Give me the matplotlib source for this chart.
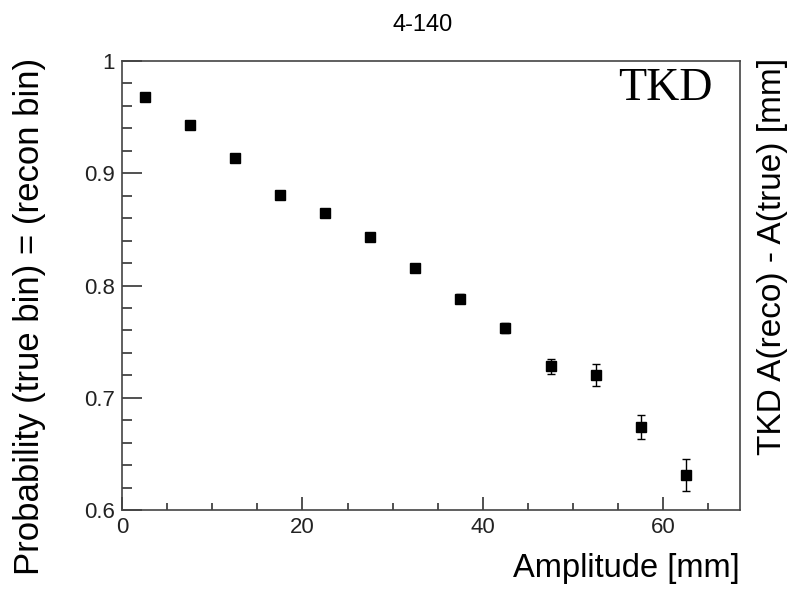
import numpy as np
import matplotlib
matplotlib.use("Agg")
import matplotlib.pyplot as plt
from matplotlib.ticker import MultipleLocator

# bin centres (5 mm wide amplitude bins) and probability of staying in the same bin
amplitude = [2.5, 7.5, 12.5, 17.5, 22.5, 27.5, 32.5, 37.5, 42.5, 47.5, 52.5, 57.5, 62.5]
prob = [0.968, 0.943, 0.914, 0.881, 0.865, 0.843, 0.816, 0.788, 0.762, 0.728, 0.720, 0.674, 0.631]
prob_err = [0.001, 0.0015, 0.002, 0.0025, 0.003, 0.003, 0.0035, 0.004, 0.0045, 0.0067, 0.0098, 0.0108, 0.0143]

plt.rcParams['font.family'] = ['Liberation Sans', 'DejaVu Sans']

W, H = 796, 590
fig = plt.figure(figsize=(W / 100, H / 100), dpi=100)
ax = fig.add_axes([122 / W, 1 - 510 / H, (740 - 122) / W, (510 - 61) / H])

ax.errorbar(amplitude, prob, yerr=prob_err, fmt='s', color='black',
            markersize=7.2, elinewidth=1, capsize=3, capthick=1)

ax.set_xlim(0, 68.5)
ax.set_ylim(0.6, 1.0)
ax.xaxis.set_major_locator(MultipleLocator(20))
ax.xaxis.set_minor_locator(MultipleLocator(5))
ax.yaxis.set_major_locator(MultipleLocator(0.1))
ax.yaxis.set_minor_locator(MultipleLocator(0.02))
ax.set_yticks([0.6, 0.7, 0.8, 0.9, 1.0])
ax.set_yticklabels(['0.6', '0.7', '0.8', '0.9', '1'])

ax.tick_params(which='both', direction='in', top=False, right=False,
               color='#333333', width=1.2, labelsize=16, labelcolor='#222222')
ax.tick_params(axis='x', which='major', length=9.5, pad=5)
ax.tick_params(axis='x', which='minor', length=5)
ax.tick_params(axis='y', which='major', length=14.5, pad=5)
ax.tick_params(axis='y', which='minor', length=7)
for s in ax.spines.values():
    s.set_color('#444444')
    s.set_linewidth(1.2)

fig.text(423 / W, 1 - 25 / H, '4-140', ha='center', va='center', fontsize=17)
ax.text(0.955, 0.985, 'TKD', transform=ax.transAxes, ha='right', va='top',
        fontsize=33, family='Liberation Serif')
fig.text(740 / W, 1 - 568 / H, 'Amplitude [mm]', ha='right', va='center', fontsize=23.5)
fig.text(30 / W, 1 - 58 / H, 'Probability (true bin) = (recon bin)', ha='center', va='top',
         rotation=90, fontsize=25)
fig.text(773 / W, 1 - 58 / H, 'TKD A(reco) - A(true) [mm]', ha='center', va='top',
         rotation=90, fontsize=24)

fig.savefig('out.png', dpi=100)
